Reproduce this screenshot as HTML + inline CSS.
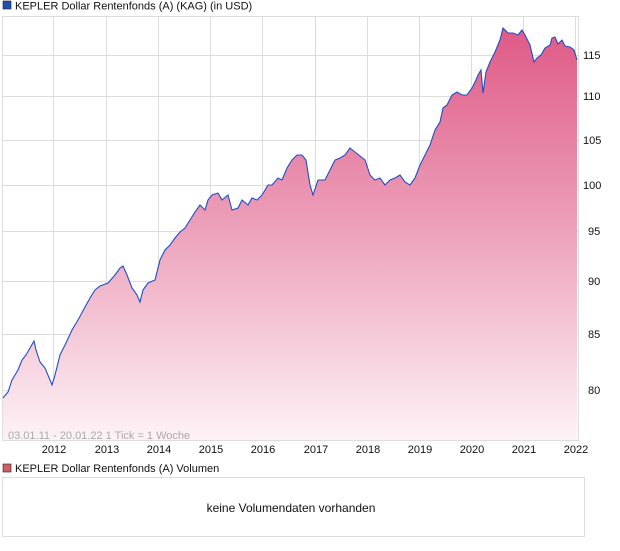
<!DOCTYPE html>
<html><head><meta charset="utf-8"><style>
body{margin:0;background:#fff;width:620px;height:546px;overflow:hidden;font-family:"Liberation Sans",sans-serif;}
</style></head><body>
<svg width="620" height="546" viewBox="0 0 620 546" xmlns="http://www.w3.org/2000/svg" font-family="Liberation Sans, sans-serif">
<defs>
<linearGradient id="g" x1="0" y1="28" x2="0" y2="441" gradientUnits="userSpaceOnUse">
<stop offset="0" stop-color="#df5a86"/>
<stop offset="0.5" stop-color="#eda3bc"/>
<stop offset="1" stop-color="#fdf3f6"/>
</linearGradient>
</defs>
<rect x="3" y="1" width="8" height="8" fill="#1f4fb4" stroke="#222" stroke-width="0.6"/>
<text x="15" y="9.5" font-size="11" fill="#111">KEPLER Dollar Rentenfonds (A) (KAG) (in USD)</text>
<rect x="2.5" y="16.5" width="576" height="424" fill="#fff" stroke="#ddd"/>
<g stroke="#ddd" stroke-width="1">
<line x1="53.5" y1="16" x2="53.5" y2="441"/><line x1="106.5" y1="16" x2="106.5" y2="441"/><line x1="158.5" y1="16" x2="158.5" y2="441"/><line x1="210.5" y1="16" x2="210.5" y2="441"/><line x1="262.5" y1="16" x2="262.5" y2="441"/><line x1="315.5" y1="16" x2="315.5" y2="441"/><line x1="367.5" y1="16" x2="367.5" y2="441"/><line x1="419.5" y1="16" x2="419.5" y2="441"/><line x1="471.5" y1="16" x2="471.5" y2="441"/><line x1="523.5" y1="16" x2="523.5" y2="441"/><line x1="575.5" y1="16" x2="575.5" y2="441"/>
<line x1="2" y1="55.5" x2="578" y2="55.5"/><line x1="2" y1="96.5" x2="578" y2="96.5"/><line x1="2" y1="140.5" x2="578" y2="140.5"/><line x1="2" y1="185.5" x2="578" y2="185.5"/><line x1="2" y1="231.5" x2="578" y2="231.5"/><line x1="2" y1="281.5" x2="578" y2="281.5"/><line x1="2" y1="334.5" x2="578" y2="334.5"/><line x1="2" y1="390.5" x2="578" y2="390.5"/>
</g>
<path fill="url(#g)" d="M3,398 L8,392 L12,380 L18,370 L22,360 L26,355 L30,348 L34,341 L36,350 L40,362 L45,368 L50,380 L52,385 L55,375 L60,355 L65,345 L72,330 L78,320 L85,307 L90,298 L95,290 L100,286 L108,283 L115,275 L120,268 L123,266 L127,275 L132,288 L137,295 L140,302 L143,290 L148,283 L155,280 L160,260 L165,250 L170,245 L175,238 L180,232 L185,228 L190,220 L195,212 L200,205 L205,210 L208,200 L212,195 L218,193 L222,200 L228,195 L232,210 L238,208 L242,200 L248,205 L252,198 L257,200 L262,195 L268,185 L272,185 L278,178 L282,180 L287,168 L292,160 L297,155 L302,155 L306,160 L310,185 L313,195 L318,180 L325,180 L330,170 L335,160 L340,158 L345,155 L350,148 L355,152 L365,160 L370,175 L375,180 L380,178 L385,185 L390,180 L395,178 L400,175 L405,182 L410,185 L415,178 L420,165 L425,155 L430,145 L435,130 L440,122 L443,108 L447,105 L452,95 L457,92 L462,95 L467,95 L472,88 L476,80 L478,75 L481,70 L483,93 L486,72 L490,62 L495,52 L500,40 L503,28 L508,33 L513,33 L518,35 L522,30 L525,35 L530,45 L534,62 L537,58 L541,55 L545,48 L550,45 L552,38 L555,37 L558,44 L562,40 L565,46 L570,47 L574,50 L577,60 L577,440 L3,440 Z"/>
<path fill="none" stroke="#1f4fc4" stroke-width="1.1" d="M3,398 L8,392 L12,380 L18,370 L22,360 L26,355 L30,348 L34,341 L36,350 L40,362 L45,368 L50,380 L52,385 L55,375 L60,355 L65,345 L72,330 L78,320 L85,307 L90,298 L95,290 L100,286 L108,283 L115,275 L120,268 L123,266 L127,275 L132,288 L137,295 L140,302 L143,290 L148,283 L155,280 L160,260 L165,250 L170,245 L175,238 L180,232 L185,228 L190,220 L195,212 L200,205 L205,210 L208,200 L212,195 L218,193 L222,200 L228,195 L232,210 L238,208 L242,200 L248,205 L252,198 L257,200 L262,195 L268,185 L272,185 L278,178 L282,180 L287,168 L292,160 L297,155 L302,155 L306,160 L310,185 L313,195 L318,180 L325,180 L330,170 L335,160 L340,158 L345,155 L350,148 L355,152 L365,160 L370,175 L375,180 L380,178 L385,185 L390,180 L395,178 L400,175 L405,182 L410,185 L415,178 L420,165 L425,155 L430,145 L435,130 L440,122 L443,108 L447,105 L452,95 L457,92 L462,95 L467,95 L472,88 L476,80 L478,75 L481,70 L483,93 L486,72 L490,62 L495,52 L500,40 L503,28 L508,33 L513,33 L518,35 L522,30 L525,35 L530,45 L534,62 L537,58 L541,55 L545,48 L550,45 L552,38 L555,37 L558,44 L562,40 L565,46 L570,47 L574,50 L577,60"/>
<g font-size="11" fill="#111">
<text x="583" y="59">115</text><text x="583" y="100">110</text><text x="583" y="144">105</text><text x="583" y="189">100</text><text x="588" y="235">95</text><text x="588" y="285">90</text><text x="588" y="338">85</text><text x="588" y="394">80</text>
</g>
<text x="8" y="439" font-size="11" fill="#aaa">03.01.11 - 20.01.22   1 Tick = 1 Woche</text>
<g font-size="11" fill="#111" text-anchor="middle">
<text x="54" y="453">2012</text><text x="107" y="453">2013</text><text x="159" y="453">2014</text><text x="211" y="453">2015</text><text x="263" y="453">2016</text><text x="316" y="453">2017</text><text x="368" y="453">2018</text><text x="420" y="453">2019</text><text x="472" y="453">2020</text><text x="524" y="453">2021</text><text x="576" y="453">2022</text>
</g>
<rect x="3" y="464" width="8" height="8" fill="#d06060" stroke="#222" stroke-width="0.6"/>
<text x="15" y="472" font-size="11" fill="#111">KEPLER Dollar Rentenfonds (A) Volumen</text>
<rect x="2.5" y="477.5" width="582" height="59" fill="#fff" stroke="#ddd"/>
<text x="291" y="512" font-size="12" fill="#111" text-anchor="middle">keine Volumendaten vorhanden</text>
</svg>
</body></html>
